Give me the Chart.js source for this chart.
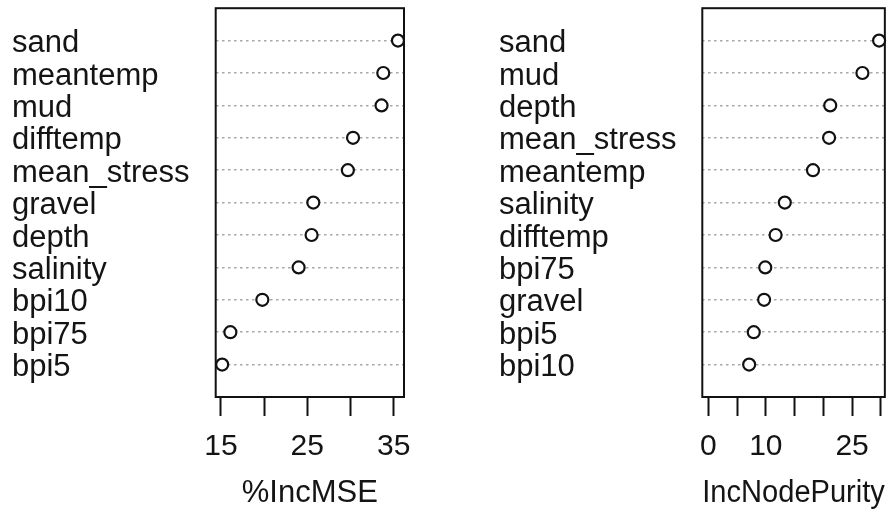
<!DOCTYPE html>
<html lang="en">
<head>
    <meta charset="UTF-8">
    <title>varImpPlot</title>
    <script src="https://cdn.jsdelivr.net/npm/chart.js"></script>
    <style>
        body { margin: 0; background: #fff; }
        .panel { position: absolute; top: 0; width: 447px; height: 512px; }
    </style>
</head>
<body>
    <div class="panel" style="left:0"><canvas id="mseChart" width="447" height="512"></canvas></div>
    <div class="panel" style="left:447px"><canvas id="purityChart" width="447" height="512"></canvas></div>

    <script>
        // %IncMSE panel
        const mseNames = ['sand', 'meantemp', 'mud', 'difftemp', 'mean_stress', 'gravel', 'depth', 'salinity', 'bpi10', 'bpi75', 'bpi5'];
        const mseValues = [35.5, 33.8, 33.6, 30.3, 29.7, 25.7, 25.5, 24.0, 19.8, 16.1, 15.15];
        const mseTicks = [15, 20, 25, 30, 35];
        const mseTickLabels = [15, 25, 35];

        // IncNodePurity panel
        const purityNames = ['sand', 'mud', 'depth', 'mean_stress', 'meantemp', 'salinity', 'difftemp', 'bpi75', 'gravel', 'bpi5', 'bpi10'];
        const purityValues = [29.7, 26.8, 21.2, 21.0, 18.2, 13.3, 11.7, 9.9, 9.7, 7.9, 7.1];
        const purityTicks = [0, 5, 10, 15, 20, 25, 30];
        const purityTickLabels = [0, 10, 25];

        const FONT = 'Liberation Sans, Arial, sans-serif';
        const TEXT = '#141414';

        // box around the plot area, drawn under the points
        const frame = {
            id: 'frame',
            beforeDatasetsDraw(chart) {
                const { ctx, chartArea: a } = chart;
                ctx.save();
                ctx.strokeStyle = '#111';
                ctx.lineWidth = 2;
                ctx.strokeRect(a.left, a.top, a.right - a.left, a.bottom - a.top);
                ctx.restore();
            }
        };

        function makePanel(id, names, values, ticks, tickLabels, min, max, title, padLeft, axisWidth, padRight) {
            const ctx = document.getElementById(id).getContext('2d');
            return new Chart(ctx, {
                type: 'scatter',
                data: {
                    datasets: [{
                        data: values.map((v, i) => ({ x: v, y: i + 1 })),
                        pointRadius: 6,
                        pointHoverRadius: 6,
                        borderWidth: 2.2,
                        borderColor: '#111',
                        backgroundColor: '#fff',
                        clip: false
                    }]
                },
                options: {
                    responsive: false,
                    animation: false,
                    devicePixelRatio: 1,
                    events: [],
                    layout: { padding: { left: padLeft, right: padRight, top: 7.5, bottom: 0 } },
                    plugins: { legend: { display: false }, tooltip: { enabled: false } },
                    scales: {
                        x: {
                            type: 'linear',
                            min: min,
                            max: max,
                            afterBuildTicks: s => { s.ticks = ticks.map(v => ({ value: v })); },
                            afterFit: s => { s.height = 115; },
                            ticks: {
                                autoSkip: false,
                                maxRotation: 0,
                                padding: 13,
                                color: TEXT,
                                font: { family: FONT, size: 30 },
                                callback: v => tickLabels.includes(v) ? String(v) : ''
                            },
                            grid: {
                                drawOnChartArea: false,
                                drawTicks: true,
                                tickLength: 19,
                                tickWidth: 2,
                                tickColor: '#111'
                            },
                            border: { display: false },
                            title: {
                                display: true,
                                text: title,
                                color: TEXT,
                                font: { family: FONT, size: 31, lineHeight: 1.2 },
                                padding: { top: 0, bottom: 0 }
                            }
                        },
                        y: {
                            type: 'linear',
                            min: 0,
                            max: 12,
                            reverse: true,
                            afterBuildTicks: s => { s.ticks = names.map((n, i) => ({ value: i + 1 })); },
                            afterFit: s => {
                                s.width = axisWidth;
                                s.paddingTop = 0;
                                s.paddingBottom = 0;
                            },
                            ticks: {
                                autoSkip: false,
                                crossAlign: 'far',
                                labelOffset: 3,
                                color: TEXT,
                                font: { family: FONT, size: 31 },
                                callback: v => names[v - 1]
                            },
                            grid: {
                                color: '#a8a8a8',
                                lineWidth: 1.6,
                                drawTicks: false
                            },
                            border: { display: false, dash: [2.5, 3.5] }
                        }
                    }
                },
                plugins: [frame]
            });
        }

        makePanel('mseChart', mseNames, mseValues, mseTicks, mseTickLabels, 14.4, 36.2, '%IncMSE', 12, 203.7, 43);
        makePanel('purityChart', purityNames, purityValues, purityTicks, purityTickLabels, -1.05, 30.7, 'IncNodePurity', 52, 203.3, 5);
    </script>
</body>
</html>
